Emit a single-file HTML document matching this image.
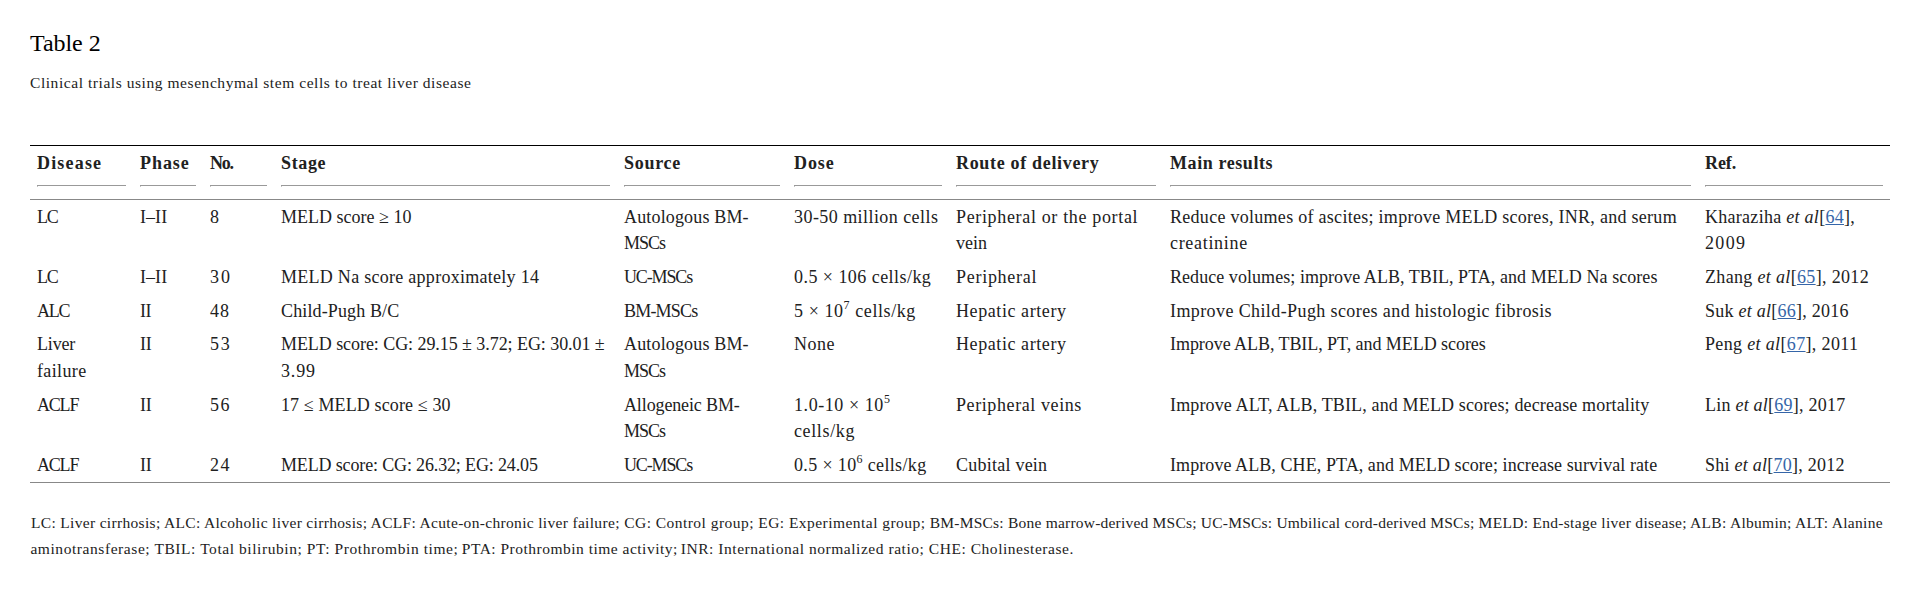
<!DOCTYPE html>
<html>
<head>
<meta charset="utf-8">
<style>
html,body{margin:0;padding:0;background:#fff;}
body{width:1916px;height:594px;position:relative;overflow:hidden;font-family:"Liberation Serif",serif;color:#212121;}
.title{position:absolute;left:30px;top:28px;font-size:24px;line-height:30px;color:#000;white-space:nowrap;}
.caption{position:absolute;left:30px;top:73.2px;font-size:15.5px;line-height:20px;color:#222;white-space:nowrap;}
table{position:absolute;left:30px;top:145px;width:1860px;border-collapse:collapse;table-layout:fixed;border-top:1px solid #000;border-bottom:1px solid #888;}
th,td{padding:0 7px;text-align:left;vertical-align:top;white-space:nowrap;overflow:visible;}
th{font-weight:bold;font-size:18px;line-height:26.6px;padding-top:4.3px;padding-bottom:13px;color:#212121;}
th div{border-bottom:1px solid #999;padding-bottom:8.1px;position:relative;}
th div::before{content:"";position:absolute;left:0;bottom:-2px;width:1px;height:1px;background:#c4c4c4;}
thead tr{border-bottom:1px solid #888;}
td{font-size:18px;line-height:26.6px;padding-top:4.2px;padding-bottom:2.8px;}
tbody tr:last-child td{padding-bottom:3.4px;}
sup{font-size:12px;line-height:0;vertical-align:baseline;position:relative;top:-8px;}
a{color:#3565a8;text-decoration:underline;}
.foot{position:absolute;left:30px;top:510px;width:1880px;font-size:15.5px;line-height:25.8px;color:#222;white-space:nowrap;}
.fl{position:absolute;left:0;width:1880px;height:25.8px;}
.fs{position:absolute;top:0;white-space:nowrap;}
</style>
</head>
<body>
<div class="title"><span style="letter-spacing:-0.045px">Table 2</span></div>
<div class="caption"><span style="letter-spacing:0.556px">Clinical trials using mesenchymal stem cells to treat liver disease</span></div>
<table>
<colgroup><col style="width:103px"><col style="width:70px"><col style="width:71px"><col style="width:343px"><col style="width:170px"><col style="width:162px"><col style="width:214px"><col style="width:535px"><col style="width:192px"></colgroup>
<thead>
<tr><th><div><span style="letter-spacing:1.185px">Disease</span></div></th><th><div><span style="letter-spacing:0.945px">Phase</span></div></th><th><div><span style="letter-spacing:-1.200px">No.</span></div></th><th><div><span style="letter-spacing:0.652px">Stage</span></div></th><th><div><span style="letter-spacing:0.720px">Source</span></div></th><th><div><span style="letter-spacing:0.930px">Dose</span></div></th><th><div><span style="letter-spacing:0.675px">Route of delivery</span></div></th><th><div><span style="letter-spacing:0.581px">Main results</span></div></th><th><div><span style="letter-spacing:-0.090px">Ref.</span></div></th></tr>
</thead>
<tbody>
<tr><td><span style="letter-spacing:-1.200px">LC</span></td><td><span style="letter-spacing:0.060px">I–II</span></td><td><span>8</span></td><td><span style="letter-spacing:0.006px">MELD score ≥ 10</span></td><td><span style="letter-spacing:0.159px">Autologous BM-</span><br><span style="letter-spacing:-1.020px;position:relative;top:-1px">MSCs</span></td><td><span style="letter-spacing:0.440px">30-50 million cells</span></td><td><span style="letter-spacing:0.657px">Peripheral or the portal</span><br><span style="letter-spacing:0.030px;position:relative;top:-1px">vein</span></td><td><span style="letter-spacing:0.283px">Reduce volumes of ascites; improve MELD scores, INR, and serum</span><br><span style="letter-spacing:0.690px;position:relative;top:-1px">creatinine</span></td><td><span style="letter-spacing:0.279px">Kharaziha <i>et al</i>[<a>64</a>],</span><br><span style="letter-spacing:1.350px;position:relative;top:-1px">2009</span></td></tr>
<tr><td><span style="letter-spacing:-1.200px">LC</span></td><td><span style="letter-spacing:0.060px">I–II</span></td><td><span style="letter-spacing:2.000px">30</span></td><td><span style="letter-spacing:0.276px">MELD Na score approximately 14</span></td><td><span style="letter-spacing:-1.140px">UC-MSCs</span></td><td><span style="letter-spacing:0.455px">0.5 × 106 cells/kg</span></td><td><span style="letter-spacing:0.720px">Peripheral</span></td><td><span style="letter-spacing:0.057px">Reduce volumes; improve ALB, TBIL, PTA, and MELD Na scores</span></td><td><span style="letter-spacing:0.333px">Zhang <i>et al</i>[<a>65</a>], 2012</span></td></tr>
<tr><td><span style="letter-spacing:-1.200px">ALC</span></td><td><span style="letter-spacing:-0.540px">II</span></td><td><span style="letter-spacing:0.900px">48</span></td><td><span style="letter-spacing:0.132px">Child-Pugh B/C</span></td><td><span style="letter-spacing:-0.795px">BM-MSCs</span></td><td><span style="letter-spacing:0.576px">5 × 10<sup>7</sup> cells/kg</span></td><td><span style="letter-spacing:0.582px">Hepatic artery</span></td><td><span style="letter-spacing:0.399px">Improve Child-Pugh scores and histologic fibrosis</span></td><td><span style="letter-spacing:0.255px">Suk <i>et al</i>[<a>66</a>], 2016</span></td></tr>
<tr><td><span style="letter-spacing:-0.158px;position:relative;top:-1px">Liver</span><br><span style="letter-spacing:0.375px">failure</span></td><td><span style="letter-spacing:-0.270px;position:relative;top:-1px">II</span></td><td><span style="letter-spacing:1.820px;position:relative;top:-1px">53</span></td><td><span style="letter-spacing:-0.063px;position:relative;top:-1px">MELD score: CG: 29.15 ± 3.72; EG: 30.01 ±</span><br><span style="letter-spacing:0.840px">3.99</span></td><td><span style="letter-spacing:0.159px;position:relative;top:-1px">Autologous BM-</span><br><span style="letter-spacing:-1.020px">MSCs</span></td><td><span style="letter-spacing:0.540px;position:relative;top:-1px">None</span></td><td><span style="letter-spacing:0.582px;position:relative;top:-1px">Hepatic artery</span></td><td><span style="letter-spacing:-0.054px;position:relative;top:-1px">Improve ALB, TBIL, PT, and MELD scores</span></td><td><span style="letter-spacing:0.346px;position:relative;top:-1px">Peng <i>et al</i>[<a>67</a>], 2011</span></td></tr>
<tr><td><span style="letter-spacing:-1.200px">ACLF</span></td><td><span style="letter-spacing:-0.270px">II</span></td><td><span style="letter-spacing:1.620px">56</span></td><td><span style="letter-spacing:0.123px">17 ≤ MELD score ≤ 30</span></td><td><span style="letter-spacing:-0.125px">Allogeneic BM-</span><br><span style="letter-spacing:-1.020px">MSCs</span></td><td><span style="letter-spacing:0.565px">1.0-10 × 10<sup>5</sup></span><br><span style="letter-spacing:0.630px">cells/kg</span></td><td><span style="letter-spacing:0.594px">Peripheral veins</span></td><td><span style="letter-spacing:0.141px">Improve ALT, ALB, TBIL, and MELD scores; decrease mortality</span></td><td><span style="letter-spacing:0.230px">Lin <i>et al</i>[<a>69</a>], 2017</span></td></tr>
<tr><td><span style="letter-spacing:-1.200px">ACLF</span></td><td><span style="letter-spacing:-0.270px">II</span></td><td><span style="letter-spacing:1.620px">24</span></td><td><span style="letter-spacing:-0.148px">MELD score: CG: 26.32; EG: 24.05</span></td><td><span style="letter-spacing:-1.140px">UC-MSCs</span></td><td><span style="letter-spacing:0.355px">0.5 × 10<sup>6</sup> cells/kg</span></td><td><span style="letter-spacing:0.237px">Cubital vein</span></td><td><span style="letter-spacing:0.079px">Improve ALB, CHE, PTA, and MELD score; increase survival rate</span></td><td><span style="letter-spacing:0.255px">Shi <i>et al</i>[<a>70</a>], 2012</span></td></tr>
</tbody>
</table>
<div class="foot"><div class="fl" style="top:0.0px"><span class="fs" style="left:1.00px;letter-spacing:0.324px">LC: Liver cirrhosis; ALC: Alcoholic liver cirrhosis; ACLF: Acute-on-chronic liver failure;</span> <span class="fs" style="left:594.20px;letter-spacing:0.461px">CG: Control group; EG: Experimental group;</span> <span class="fs" style="left:899.80px;letter-spacing:0.215px">BM-MSCs: Bone marrow-derived MSCs; UC-MSCs: Umbilical cord-derived MSCs;</span> <span class="fs" style="left:1448.60px;letter-spacing:0.297px">MELD: End-stage liver disease; ALB: Albumin; ALT: Alanine</span> </div><div class="fl" style="top:25.8px"><span class="fs" style="left:0.40px;letter-spacing:0.568px">aminotransferase; TBIL: Total bilirubin; PT: Prothrombin time;</span> <span class="fs" style="left:431.80px;letter-spacing:0.495px">PTA: Prothrombin time activity;</span> <span class="fs" style="left:650.80px;letter-spacing:0.538px">INR: International normalized ratio; CHE: Cholinesterase.</span> </div></div>
</body>
</html>
